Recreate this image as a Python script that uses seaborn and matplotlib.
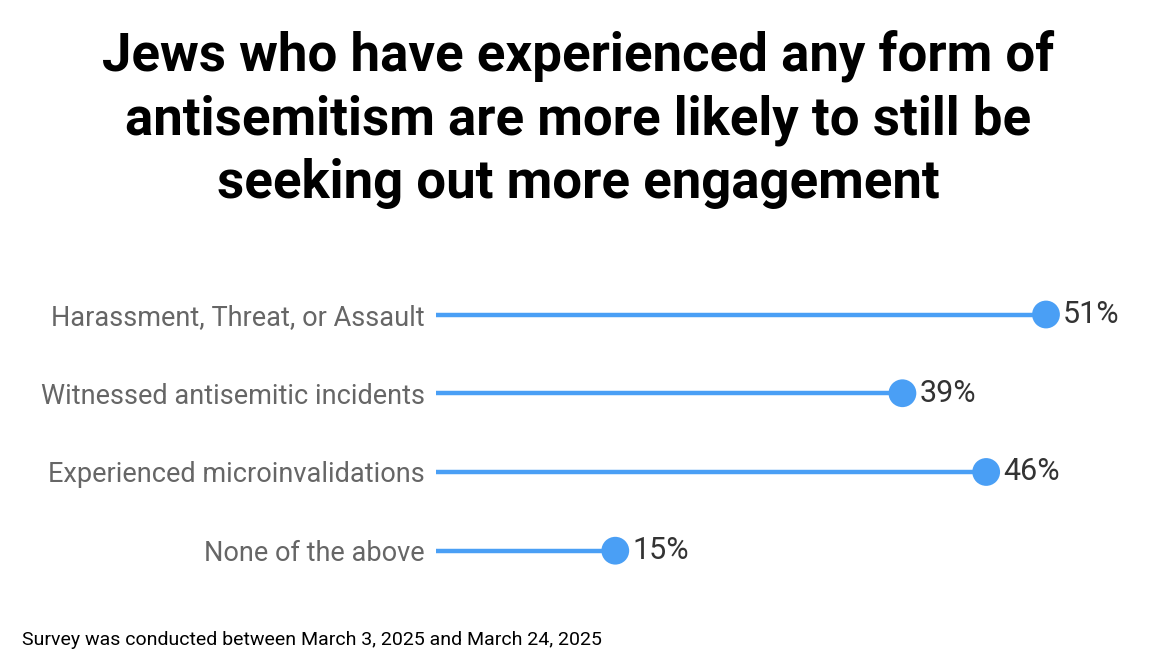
import matplotlib
matplotlib.use("Agg")
import matplotlib.pyplot as plt
import seaborn as sns
import pandas as pd

sns.set_theme(style="white")
plt.rcParams['font.family'] = ['Roboto', 'DejaVu Sans']

categories = ["Harassment, Threat, or Assault", "Witnessed antisemitic incidents",
              "Experienced microinvalidations", "None of the above"]
values = [51, 39, 46, 15]
blue = "#4a9ff5"

df = pd.DataFrame({"cat": categories, "val": values, "pos": range(len(categories))})

fig = plt.figure(figsize=(11.56, 6.63), dpi=100)
ax = fig.add_axes([0.377, 0.110, 0.621, 0.475])

ax.hlines(df["pos"], 0, df["val"], color=blue, linewidth=3.2, zorder=1)
sns.scatterplot(data=df, x="val", y="pos", s=400, color=blue, edgecolor="none",
                ax=ax, zorder=2, legend=False)
for p, v in zip(df["pos"], df["val"]):
    ax.text(v + 1.4, p, f"{v}%", va="center", ha="left", fontsize=22, color="#333333")

ax.set_xlim(0, 60)
ax.set_ylim(3.5, -0.5)
ax.set_yticks(df["pos"])
ax.set_yticklabels(categories, fontsize=19.5, color="#666666")
ax.tick_params(axis="y", length=0, pad=8)
ax.set_xticks([])
ax.set_xlabel("")
ax.set_ylabel("")
for s in ax.spines.values():
    s.set_visible(False)

fig.text(0.5, 0.955, "Jews who have experienced any form of\nantisemitism are more likely to still be\nseeking out more engagement",
         ha="center", va="top", fontsize=38, fontweight="bold", color="black", linespacing=1.3)
fig.text(0.019, 0.027, "Survey was conducted between March 3, 2025 and March 24, 2025",
         fontsize=14, color="black")

fig.savefig("out.png", dpi=100)
